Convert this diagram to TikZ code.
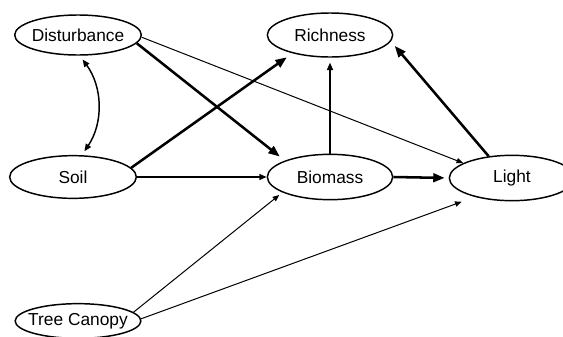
\documentclass[tikz,border=0pt]{standalone}
\usepackage{fontspec}
\setmainfont{Liberation Sans}
\usetikzlibrary{arrows.meta,shapes.geometric}

\tikzset{
  factor/.style={draw, ellipse, line width=1.1pt, inner xsep=-4pt, inner ysep=0pt,
    minimum width=94pt, minimum height=33pt, font=\fontsize{13}{15}\selectfont},
  pathweak/.style={line width=0.75pt, -{Triangle[length=5pt,width=4pt]}},
  pathmid/.style={line width=1.1pt, -{Triangle[length=5.5pt,width=4.5pt]}},
  pathstrong/.style={line width=1.9pt, -{Triangle[length=8.5pt,width=6.5pt]}},
}

\begin{document}
\begin{tikzpicture}[x={(0.75pt,0)}, y={(0,-0.75pt)}]
\path[use as bounding box, clip] (0,0) rectangle (563,336);

% variables
\node[factor, minimum width=95pt, minimum height=30pt] (dist) at (78,35) {Disturbance};
\node[factor] (rich) at (330,35) {Richness};
\node[factor, minimum width=95pt, minimum height=32pt] (soil) at (73,177) {Soil};
\node[factor, minimum height=34pt] (bio) at (330,177) {Biomass};
\node[factor, minimum height=34pt] (light) at (512,178) {Light};
\node[factor, minimum height=26pt] (tree) at (78,321) {Tree Canopy};

% paths
\draw[pathmid, {Triangle[length=5.5pt,width=4.5pt]}-{Triangle[length=5.5pt,width=4.5pt]},
  shorten <=3.5pt, shorten >=3.5pt] (dist.-85) to[bend left=35] (soil.68);
\draw[pathstrong, shorten >=4.9pt] (dist.-8) -- (bio.160);
\draw[pathweak] (dist.-2) -- (light.163);
\draw[pathstrong, shorten >=5.2pt] (soil.9) -- (rich.206);
\draw[pathmid] (soil.east) -- (bio.west);
\draw[pathmid, shorten >=3.7pt] (bio.north) -- (rich.south);
\draw[pathstrong, shorten >=3pt] (bio.east) -- (light.west);
\draw[pathstrong, shorten >=4.5pt] (light.137) -- (rich.-6);
\draw[pathweak, shorten >=3pt] (tree.9) -- (bio.198);
\draw[pathweak, shorten >=10.5pt] (tree.2) -- (light.207);
\end{tikzpicture}
\end{document}
